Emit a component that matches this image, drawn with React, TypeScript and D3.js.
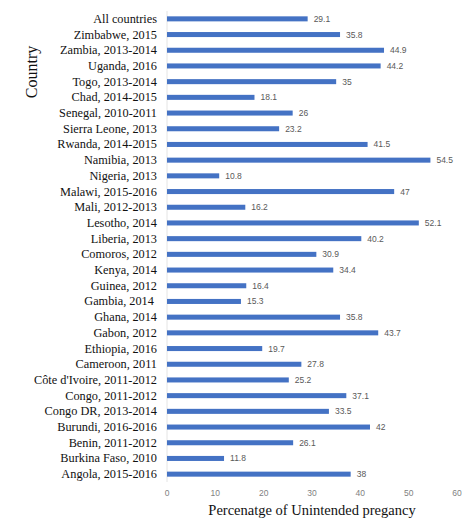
import * as d3 from 'd3'

const countries = [
  'All countries',
  'Zimbabwe, 2015',
  'Zambia, 2013-2014',
  'Uganda, 2016',
  'Togo, 2013-2014',
  'Chad, 2014-2015',
  'Senegal, 2010-2011',
  'Sierra Leone, 2013',
  'Rwanda, 2014-2015',
  'Namibia, 2013',
  'Nigeria, 2013',
  'Malawi, 2015-2016',
  'Mali, 2012-2013',
  'Lesotho, 2014',
  'Liberia, 2013',
  'Comoros, 2012',
  'Kenya, 2014',
  'Guinea, 2012',
  'Gambia, 2014 ',
  'Ghana, 2014',
  'Gabon, 2012',
  'Ethiopia, 2016',
  'Cameroon, 2011',
  "Côte d'Ivoire, 2011-2012",
  'Congo, 2011-2012',
  'Congo DR, 2013-2014',
  'Burundi, 2016-2016',
  'Benin, 2011-2012',
  'Burkina Faso, 2010',
  'Angola, 2015-2016',
]

const unintended = [
  29.1, 35.8, 44.9, 44.2, 35, 18.1, 26, 23.2, 41.5, 54.5, 10.8, 47, 16.2, 52.1,
  40.2, 30.9, 34.4, 16.4, 15.3, 35.8, 43.7, 19.7, 27.8, 25.2, 37.1, 33.5, 42,
  26.1, 11.8, 38,
]

const xTicks = [0, 10, 20, 30, 40, 50, 60]

const W = 474
const H = 531
const margin = { top: 11, right: 17, bottom: 49, left: 167 }

export default function App() {
  const x = d3
    .scaleLinear()
    .domain([0, 60])
    .range([margin.left, W - margin.right])
  const y = d3
    .scaleBand()
    .domain(countries)
    .range([margin.top, H - margin.bottom])
    .paddingInner(0.68)
    .paddingOuter(0.34)

  const barH = y.bandwidth()

  return (
    <svg
      width={W}
      height={H}
      style={{ position: 'absolute', left: 0, top: 0, background: '#fff' }}
    >
      <line
        x1={x(0)}
        x2={x(0)}
        y1={margin.top}
        y2={H - margin.bottom}
        stroke="#e4e4e4"
        strokeWidth={1}
      />
      {countries.map((c, i) => {
        const cy = (y(c) ?? 0) + barH / 2
        return (
          <g key={c}>
            <text
              x={157}
              y={cy}
              textAnchor="end"
              dominantBaseline="central"
              fontFamily="'Liberation Serif', 'Times New Roman', serif"
              fontSize={12.3}
              fill="#111"
              style={{ whiteSpace: 'pre' }}
            >
              {c}
            </text>
            <rect
              x={x(0)}
              y={y(c)}
              width={x(unintended[i]) - x(0)}
              height={barH}
              fill="#4472C4"
            />
            <text
              x={x(unintended[i]) + 6}
              y={cy}
              dominantBaseline="central"
              fontFamily="'Liberation Sans', Arial, sans-serif"
              fontSize={8.5}
              fill="#595959"
            >
              {unintended[i]}
            </text>
          </g>
        )
      })}
      {xTicks.map((t) => (
        <text
          key={t}
          x={x(t)}
          y={493}
          textAnchor="middle"
          dominantBaseline="central"
          fontFamily="'Liberation Sans', Arial, sans-serif"
          fontSize={8.5}
          fill="#7f7f7f"
        >
          {t}
        </text>
      ))}
      <text
        x={312}
        y={515}
        textAnchor="middle"
        fontFamily="'Liberation Serif', 'Times New Roman', serif"
        fontSize={14.5}
        fill="#111"
      >
        Percenatge of Unintended pregancy
      </text>
      <text
        transform="translate(37, 72) rotate(-90)"
        textAnchor="middle"
        fontFamily="'Liberation Serif', 'Times New Roman', serif"
        fontSize={16}
        fill="#111"
      >
        Country
      </text>
    </svg>
  )
}
